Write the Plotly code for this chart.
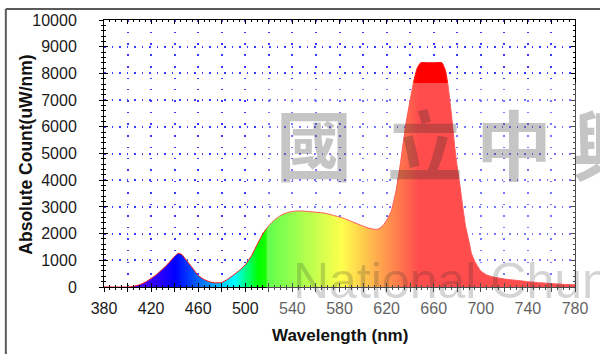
import plotly.graph_objects as go

# ---------------- data ----------------
wavelength = [380, 390, 400, 405, 410, 415, 420, 425, 430, 435, 440, 443, 446, 450, 455, 460,
              465, 470, 475, 480, 485, 490, 495, 500, 505, 510, 515, 520, 525, 530, 535, 540,
              545, 550, 555, 560, 565, 570, 575, 580, 585, 590, 595, 600, 605, 610, 613, 617,
              620, 624, 628, 632, 636, 640, 643, 646, 649, 655, 660, 667, 670, 672, 675, 678,
              680, 682, 685, 687, 690, 692, 695, 700, 705, 711, 720, 728, 740, 750, 760, 770, 780]
intensity = [0, 0, 0, 20, 80, 180, 320, 480, 680, 900, 1150, 1260, 1220, 1000, 720, 430,
             280, 190, 155, 170, 290, 450, 620, 830, 1150, 1580, 2000, 2300, 2520, 2680, 2780, 2830,
             2850, 2840, 2820, 2800, 2780, 2740, 2680, 2620, 2550, 2460, 2370, 2280, 2200, 2160, 2170, 2300,
             2500, 2850, 3600, 4700, 6000, 7000, 7700, 8200, 8400, 8400, 8400, 8400, 8100, 7600, 6500, 5200,
             4500, 3900, 2900, 2300, 1700, 1270, 950, 600, 450, 370, 300, 260, 200, 160, 130, 100, 80]

x_tick_vals = list(range(380, 781, 20))
x_tick_text = ["380", "", "420", "", "460", "", "500", "", "540", "", "580", "",
               "620", "", "660", "", "700", "", "740", "", "780"]
y_tick_vals = list(range(0, 10001, 1000))
y_tick_text = [str(v) for v in y_tick_vals]

# spectral colour stops (nm -> colour) used for the fill gradient
gradient_nm = [380, 410, 430, 440, 465, 490, 510, 545, 580, 612, 645, 780]
gradient_colors = ["#6a00ff", "#4a00ff", "#2200ff", "#0000ff", "#0080ff", "#00ffff",
                   "#00ff00", "#80ff00", "#ffff00", "#ff8000", "#ff0000", "#ff0000"]

watermark_chars = ["國", "立", "中", "興"]
watermark_text = "National Chung Hsing University"

X0, X1 = 380, 780
Y0, Y1 = 0, 10000

colorscale = [[(nm - X0) / (X1 - X0), c] for nm, c in zip(gradient_nm, gradient_colors)]

fig = go.Figure()
fig.add_trace(go.Scatter(
    x=wavelength, y=intensity, mode="lines",
    line=dict(color="#ff1010", width=1, shape="spline", smoothing=0.4),
    fill="tozeroy",
    fillgradient=dict(type="horizontal", start=X0, stop=X1, colorscale=colorscale),
    hoverinfo="skip", showlegend=False,
))
# invisible trace to realise the overlay axes (inner half of crossing ticks)
fig.add_trace(go.Scatter(x=[X0], y=[Y0], xaxis="x2", yaxis="y2", mode="markers",
                         marker=dict(opacity=0), hoverinfo="skip", showlegend=False))

FONT = "Arial, Liberation Sans, sans-serif"
tickfont = dict(family=FONT, size=16, color="#1a1a1a")

# plot area in pixels: left 104, right 579, top 20, bottom 287
L, R, T, B = 104, 579, 20, 287
W, H = 600, 354


def px(xp):
    return (xp - L) / (R - L)


def py(yp):
    return (B - yp) / (B - T)


fig.update_layout(
    width=W, height=H,
    margin=dict(l=L, r=W - R, t=T, b=H - B),
    paper_bgcolor="white", plot_bgcolor="white",
    xaxis=dict(range=[X0, X1], tickmode="array", tickvals=x_tick_vals, ticktext=x_tick_text,
               ticks="outside", ticklen=4, tickwidth=1, tickcolor="black",
               minor=dict(dtick=5, tick0=380, ticks="outside", ticklen=2, tickcolor="black", showgrid=False),
               showline=True, linecolor="black", linewidth=1,
               showgrid=True, gridcolor="#3a3aff", gridwidth=1.5, griddash="1.5px,10px",
               zeroline=False, tickfont=tickfont, ticklabelstandoff=3, fixedrange=True),
    yaxis=dict(range=[Y0, Y1], tickmode="array", tickvals=y_tick_vals, ticktext=y_tick_text,
               ticks="outside", ticklen=4, tickwidth=1, tickcolor="black",
               minor=dict(dtick=200, tick0=0, ticks="outside", ticklen=2, tickcolor="black", showgrid=False),
               showline=True, linecolor="black", linewidth=1,
               showgrid=True, gridcolor="#3a3aff", gridwidth=1.5, griddash="1.5px,6px",
               zeroline=False, tickfont=tickfont, ticklabelstandoff=19, fixedrange=True),
    xaxis2=dict(range=[X0, X1], overlaying="x", anchor="y", side="bottom",
                tickmode="array", tickvals=x_tick_vals, showticklabels=False,
                ticks="inside", ticklen=4, tickwidth=1, tickcolor="black",
                minor=dict(dtick=5, tick0=380, ticks="inside", ticklen=2, tickcolor="black", showgrid=False),
                showline=True, linecolor="black", linewidth=1, mirror="ticks",
                showgrid=False, zeroline=False, fixedrange=True),
    yaxis2=dict(range=[Y0, Y1], overlaying="y", anchor="x", side="left",
                tickmode="array", tickvals=y_tick_vals, showticklabels=False,
                ticks="inside", ticklen=4, tickwidth=1, tickcolor="black",
                minor=dict(dtick=200, tick0=0, ticks="inside", ticklen=2, tickcolor="black", showgrid=False),
                showline=True, linecolor="black", linewidth=1, mirror="ticks",
                showgrid=False, zeroline=False, fixedrange=True),
    showlegend=False,
)

shapes = [
    # washed-out watermark backdrop
    dict(type="rect", xref="paper", yref="paper", x0=px(268), x1=px(605), y0=py(318), y1=py(83),
         fillcolor="rgba(255,255,255,0.3)", line=dict(width=0), layer="above"),
    # outer frame
    dict(type="line", xref="paper", yref="paper", x0=px(5), x1=px(605), y0=py(9), y1=py(9),
         line=dict(color="#5a5a5a", width=2), layer="above"),
    dict(type="line", xref="paper", yref="paper", x0=px(5), x1=px(5), y0=py(9), y1=py(360),
         line=dict(color="#5a5a5a", width=2), layer="above"),
]
fig.update_layout(shapes=shapes)

annotations = [
    dict(text="<b>Absolute Count(uW/nm)</b>", xref="paper", yref="paper", x=px(25), y=py(155),
         textangle=-90, showarrow=False, font=dict(family=FONT, size=17.5, color="#111"),
         xanchor="center", yanchor="middle"),
    dict(text="<b>Wavelength (nm)</b>", xref="paper", yref="paper", x=px(342), y=py(335),
         showarrow=False, font=dict(family=FONT, size=17, color="#111"),
         xanchor="center", yanchor="middle"),
]
for ch, cx in zip(watermark_chars, [316, 428, 517, 614]):
    annotations.append(dict(text="<b>" + ch + "</b>", xref="paper", yref="paper", x=px(cx), y=py(142),
                            showarrow=False, xanchor="center", yanchor="middle",
                            font=dict(family="Noto Sans CJK TC", size=76, color="rgba(40,40,40,0.27)")))
annotations.append(dict(text=watermark_text, xref="paper", yref="paper", x=px(293), y=py(281),
                        showarrow=False, xanchor="left", yanchor="middle",
                        font=dict(family=FONT, size=50, color="rgba(40,40,40,0.2)")))
fig.update_layout(annotations=annotations)

fig.write_html("out.html", config={"displayModeBar": False},
               post_script="document.body.style.margin='0';")
